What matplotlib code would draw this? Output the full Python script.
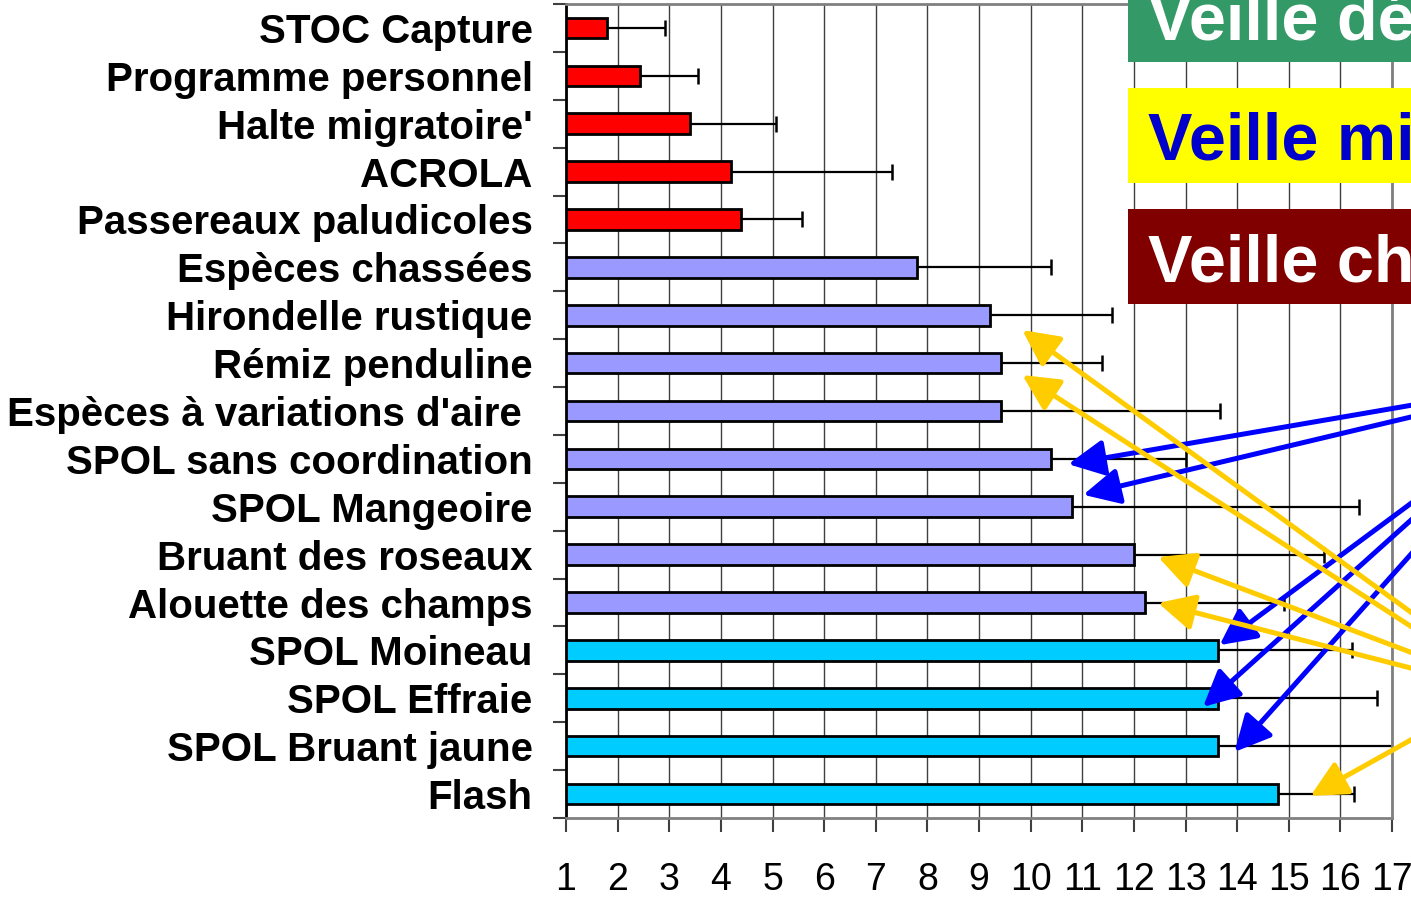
import matplotlib
matplotlib.use("Agg")
import matplotlib.pyplot as plt
import numpy as np
from matplotlib.patches import Rectangle

plt.rcParams['font.family'] = ['Liberation Sans', 'DejaVu Sans']

# categories from top to bottom
categories = ["STOC Capture", "Programme personnel", "Halte migratoire'", "ACROLA",
              "Passereaux paludicoles", "Espèces chassées", "Hirondelle rustique",
              "Rémiz penduline", "Espèces à variations d'aire ", "SPOL sans coordination",
              "SPOL Mangeoire", "Bruant des roseaux", "Alouette des champs",
              "SPOL Moineau", "SPOL Effraie", "SPOL Bruant jaune", "Flash"]
means = [1.79, 2.43, 3.41, 4.19, 4.39, 7.80, 9.22, 9.42, 9.42, 10.40, 10.80,
         12.01, 12.21, 13.63, 13.63, 13.63, 14.80]
upper = [2.92, 3.55, 5.07, 7.32, 5.57, 10.40, 11.58, 11.38, 13.67, 13.00, 16.37,
         15.69, 14.90, 16.23, 16.71, 17.60, 16.27]
group_sizes = [5, 8, 4]
group_colors = ['#FF0000', '#9999FF', '#00CCFF']
xticks = list(range(1, 18))

# annotation boxes (cut by the right edge in the original)
box_texts = ["Veille dé", "Veille mi", "Veille ch"]
box_colors = ['#339966', '#FFFF00', '#800000']
box_text_colors = ['white', '#0000CC', 'white']

# arrows: (tip x, tip y, tail x, tail y) in data units
blue_arrows = [(10.73, 9.11, 18.13, 7.74), (11.02, 9.75, 18.13, 7.93),
               (13.66, 12.89, 18.13, 9.32), (13.34, 14.18, 18.13, 9.54),
               (13.95, 15.12, 18.13, 10.07)]
yellow_arrows = [(9.84, 6.31, 18.13, 12.80), (9.84, 7.25, 18.13, 13.03),
                 (12.47, 11.05, 18.13, 13.35), (12.47, 12.01, 18.13, 13.58),
                 (15.42, 16.04, 18.13, 14.41)]

W, H = 1411, 898
fig = plt.figure(figsize=(W / 100, H / 100), dpi=100)
ax = fig.add_axes([566 / W, 1 - 818 / H, (1392 - 566) / W, (818 - 4) / H])

colors = []
for n, c in zip(group_sizes, group_colors):
    colors += [c] * n

y = np.arange(len(categories))

ax.barh(y, np.array(means) - 1, left=1, height=0.43, color=colors,
        edgecolor='black', linewidth=2, zorder=3)
# upper error bars only (line from bar end + cap)
ax.hlines(y, means, upper, color='black', linewidth=1.6, zorder=2)
ax.plot(upper, y, linestyle='none', marker='|', markersize=11.5,
        markeredgewidth=1.8, color='black', zorder=2)

ax.set_xlim(1, 17)
ax.set_ylim(len(categories) - 0.5, -0.5)
ax.set_xticks(xticks)
ax.set_xticklabels([str(t) for t in xticks], fontsize=27)
ax.tick_params(axis='x', length=10, width=1.5, color='#404040', pad=22)

ax.set_yticks(y)
ax.set_yticklabels(categories, fontsize=29, fontweight='bold')
ax.set_yticks(np.arange(len(categories) + 1) - 0.5, minor=True)
ax.tick_params(axis='y', which='major', length=0, pad=24)
ax.tick_params(axis='y', which='minor', length=9.5, width=1.5, color='#404040')

ax.grid(True, axis='x', color='#404040', linewidth=1)
ax.set_axisbelow(True)

for s in ['top', 'right', 'bottom']:
    ax.spines[s].set_color('#808080')
    ax.spines[s].set_linewidth(2)
ax.spines['left'].set_color('black')
ax.spines['left'].set_linewidth(2)

# boxes on the right
box_rows = [(-20, 62, 40), (88, 183, 160), (209, 304, 282)]
for (top, bottom, base), txt, bc, tc in zip(box_rows, box_texts, box_colors, box_text_colors):
    fig.add_artist(Rectangle((1128 / W, 1 - bottom / H), (W - 1128 + 10) / W,
                             (bottom - top) / H, transform=fig.transFigure,
                             facecolor=bc, edgecolor='none', zorder=5))
    fig.text(1148 / W, 1 - base / H, txt, fontsize=48, fontweight='bold', color=tc,
             va='baseline', ha='left', zorder=6)

for arrows, col in [(blue_arrows, '#0000FF'), (yellow_arrows, '#FFCC00')]:
    for tx, ty, sx, sy in arrows:
        ax.annotate('', xy=(tx, ty), xytext=(sx, sy), annotation_clip=False,
                    arrowprops=dict(arrowstyle='-|>,head_length=1.1,head_width=0.55',
                                    color=col, lw=3.6, shrinkA=0, shrinkB=0,
                                    mutation_scale=20, clip_on=False), zorder=7)

fig.savefig('out.png', dpi=100)
